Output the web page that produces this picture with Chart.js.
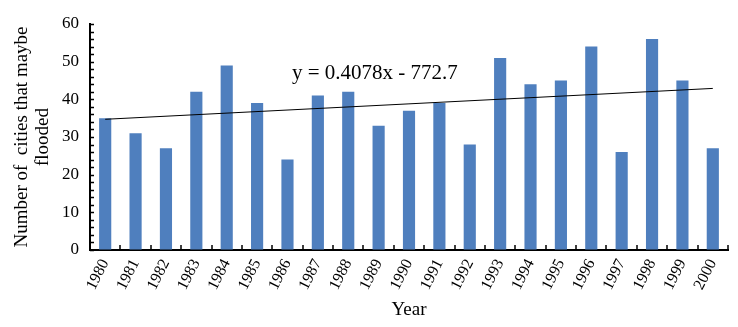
<!DOCTYPE html>
<html>
<head>
<meta charset="utf-8">
<script src="https://cdn.jsdelivr.net/npm/chart.js@4/dist/chart.umd.min.js"></script>
<style>
  body { margin: 0; background: #fff; }
  #wrap { width: 738px; height: 327px; }
</style>
</head>
<body>
<div id="wrap"><canvas id="myChart" width="738" height="327"></canvas></div>
<script>
'use strict';

// Data
let years = ['1980', '1981', '1982', '1983', '1984', '1985', '1986', '1987', '1988', '1989', '1990',
  '1991', '1992', '1993', '1994', '1995', '1996', '1997', '1998', '1999', '2000'];
let cities = [35, 31, 27, 42, 49, 39, 24, 41, 42, 33, 37, 39, 28, 51, 44, 45, 54, 26, 56, 45, 27];
let trendStart = 34.7;
let trendEnd = 42.9;
let trendLabel = 'y = 0.4078x - 772.7';
let yTicks = [0, 10, 20, 30, 40, 50, 60];

// trend line only has its two end points, gaps spanned
let trendData = years.map(() => null);
trendData[0] = trendStart;
trendData[trendData.length - 1] = trendEnd;

let serif = '"Liberation Serif", "Times New Roman", serif';

// small inward tick marks + equation text
let extrasPlugin = {
  id: 'extras',
  afterDraw(chart) {
    let ctx = chart.ctx;
    let x = chart.scales.x;
    let y = chart.scales.y;
    let area = chart.chartArea;
    ctx.save();
    ctx.strokeStyle = '#000';
    ctx.lineWidth = 1.5;
    ctx.beginPath();
    for (let v = 0; v <= 60; v += 2) {
      let py = Math.round(y.getPixelForValue(v)) + 0.5;
      ctx.moveTo(area.left, py);
      ctx.lineTo(area.left + 4, py);
    }
    let step = (area.right - area.left) / years.length;
    for (let i = 1; i <= years.length; i++) {
      let px = Math.round(x.getPixelForValue(i - 1) + step / 2);
      ctx.moveTo(px, area.bottom);
      ctx.lineTo(px, area.bottom - 5);
    }
    ctx.stroke();

    ctx.fillStyle = '#000';
    ctx.font = '21px ' + serif;
    ctx.textBaseline = 'middle';
    ctx.textAlign = 'left';
    ctx.fillText(trendLabel, 292, 73);
    ctx.restore();
  }
};

let ctx = document.getElementById('myChart').getContext('2d');
let myChart = new Chart(ctx, { // eslint-disable-line
  type: 'bar',
  data: {
    labels: years,
    datasets: [
      {
        type: 'line',
        data: trendData,
        spanGaps: true,
        borderColor: '#000',
        borderWidth: 1,
        pointRadius: 0,
        fill: false,
        order: 0
      },
      {
        data: cities,
        backgroundColor: '#4f7fbe',
        barPercentage: 0.4,
        categoryPercentage: 1,
        order: 1
      }
    ]
  },
  options: {
    responsive: false,
    animation: false,
    layout: { padding: { left: 0, right: 10, top: 24, bottom: 0 } },
    plugins: {
      legend: { display: false },
      tooltip: { enabled: false }
    },
    scales: {
      x: {
        grid: { display: true, drawOnChartArea: false, drawTicks: false },
        border: { display: true, color: '#000', width: 2 },
        ticks: {
          color: '#000',
          font: { family: serif, size: 16 },
          minRotation: 63,
          maxRotation: 63,
          padding: 6,
          autoSkip: false
        },
        title: {
          display: true,
          text: 'Year',
          color: '#000',
          font: { family: serif, size: 19 },
          padding: { top: 0, bottom: 6 }
        },
        afterFit(scale) { scale.height = 77; }
      },
      y: {
        min: 0,
        max: 60,
        afterBuildTicks(scale) { scale.ticks = yTicks.map(v => ({ value: v })); },
        grid: { display: true, drawOnChartArea: false, drawTicks: false },
        border: { display: true, color: '#000', width: 2 },
        ticks: {
          color: '#000',
          font: { family: serif, size: 17 },
          padding: 11
        },
        title: {
          display: true,
          text: ['Number of  cities that maybe', 'flooded'],
          color: '#000',
          font: { family: serif, size: 19, lineHeight: 1.1 },
          padding: { top: 12, bottom: 0 }
        },
        afterFit(scale) { scale.width = 90; }
      }
    }
  },
  plugins: [extrasPlugin]
});
</script>
</body>
</html>
